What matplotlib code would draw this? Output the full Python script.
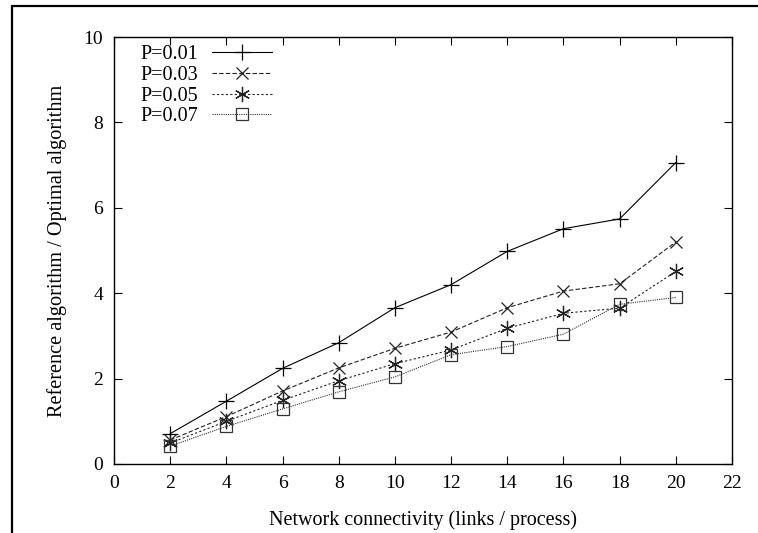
import matplotlib
matplotlib.use("Agg")
import matplotlib.pyplot as plt
from matplotlib.patches import Rectangle

x = [2, 4, 6, 8, 10, 12, 14, 16, 18, 20]
p001 = [0.71, 1.47, 2.24, 2.84, 3.66, 4.20, 4.98, 5.51, 5.74, 7.06]
p003 = [0.56, 1.11, 1.71, 2.25, 2.71, 3.09, 3.66, 4.05, 4.22, 5.20]
p005 = [0.49, 1.00, 1.49, 1.95, 2.35, 2.67, 3.18, 3.53, 3.65, 4.51]
p007 = [0.42, 0.88, 1.29, 1.69, 2.04, 2.56, 2.75, 3.04, 3.74, 3.90]
labels = ["P=0.01", "P=0.03", "P=0.05", "P=0.07"]
xticks = [0, 2, 4, 6, 8, 10, 12, 14, 16, 18, 20, 22]
yticks = [0, 2, 4, 6, 8, 10]

plt.rcParams['font.family'] = ['Liberation Serif', 'DejaVu Serif']
fig = plt.figure(figsize=(7.58, 5.33), dpi=100)
ax = fig.add_axes([114/758, 1-464/533, (732-114)/758, (464-37)/533])

styles = [
    dict(marker='+', linestyle='-', color='black', ms=11, mew=0.9),
    dict(marker='x', linestyle=(0, (4, 2)), color='#222222', ms=9, mew=0.9),
    dict(marker=(6, 2, 0), linestyle=(0, (2, 2)), color='#222222', ms=11, mew=0.9),
    dict(marker='s', linestyle=(0, (1, 1)), color='#333333', ms=9, mew=0.9, mfc='none'),
]
for ys, lab, st in zip([p001, p003, p005, p007], labels, styles):
    ax.plot(x, ys, label=lab, lw=0.8, **st)

ax.set_xlim(0, 22)
ax.set_ylim(0, 10)
ax.set_xticks(xticks)
ax.set_yticks(yticks)
ax.tick_params(direction='in', top=True, right=True, length=6, width=0.8, labelsize=14, pad=8)
for s in ax.spines.values():
    s.set_linewidth(1.0)
ax.set_xlabel("Network connectivity (links / process)", fontsize=14.5, labelpad=13)
ax.set_ylabel("Reference algorithm / Optimal algorithm", fontsize=14.6, labelpad=12)

leg = ax.legend(loc='upper left', markerfirst=False, frameon=False, fontsize=14.5,
                handlelength=3.0, handletextpad=0.7, labelspacing=0.08,
                borderaxespad=0.0, bbox_to_anchor=(0.029, 1.0))

fig.patches.append(Rectangle((12/758, -0.05), 1.0, 1-6/533+0.05, transform=fig.transFigure,
                             fill=False, edgecolor='black', lw=1.6))

fig.savefig("out.png", dpi=100)
